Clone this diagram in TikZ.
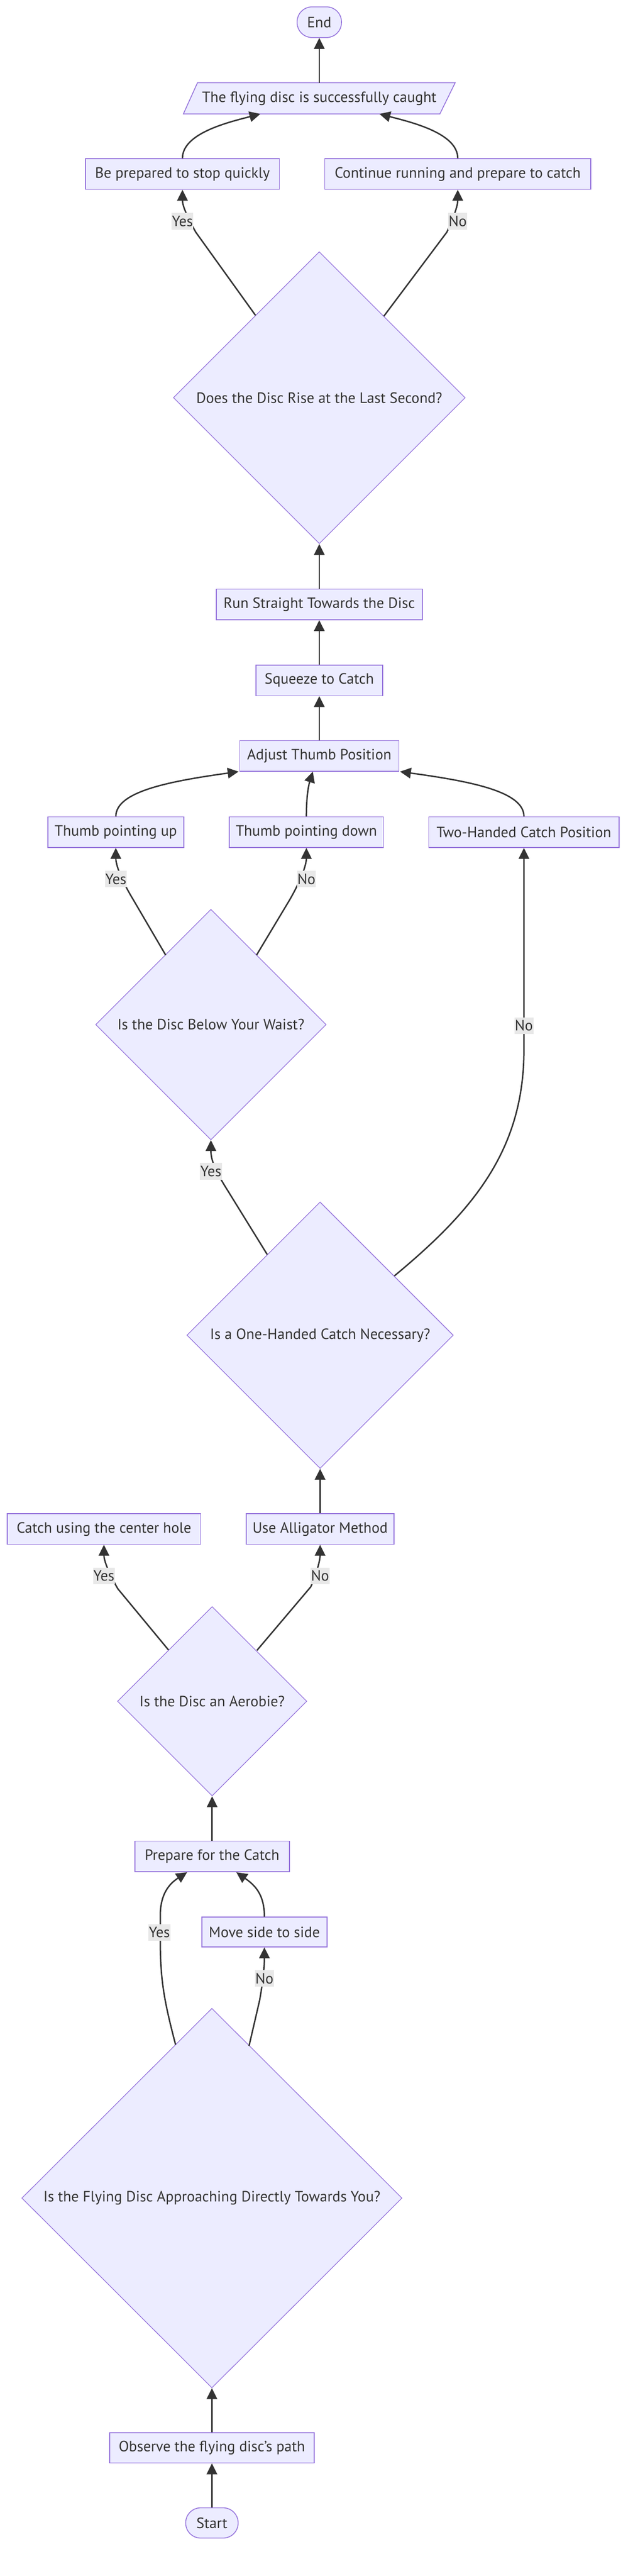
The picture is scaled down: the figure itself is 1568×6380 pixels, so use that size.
\documentclass[tikz,border=0pt]{standalone}
\usepackage{fontspec}
\setmainfont{PT Sans}
\usetikzlibrary{shapes.geometric,arrows.meta,calc}
\definecolor{nfill}{HTML}{ECECFF}
\definecolor{nline}{HTML}{9370DB}
\definecolor{eline}{HTML}{333333}
\definecolor{lblbg}{HTML}{E8E8E8}
\newcommand{\nfont}{\fontsize{37}{42}\selectfont}
\begin{document}
\begin{tikzpicture}[x=1pt,y=-1pt,
  box/.style={draw=nline, fill=nfill, line width=2pt, text=eline, font=\nfont, inner sep=0pt, minimum height=76pt},
  term/.style={box, rounded corners=37pt},
  dec/.style={diamond, draw=nline, fill=nfill, line width=1.6pt, text=eline, font=\nfont, inner sep=0pt, aspect=1},
  plain/.style={text=eline, font=\nfont, inner sep=0pt, minimum height=77pt},
  lbl/.style={fill=lblbg, text=eline, font=\nfont, inner xsep=1pt, inner ysep=0pt, minimum height=41pt},
  edge/.style={draw=eline, line width=3.5pt, -{Triangle[length=27pt,width=26pt]}},
]
\useasboundingbox[fill=white] (0,0) rectangle (1568,6380);

% nodes
\node[term, minimum width=110pt] (end) at (791,55) {End};
\node[plain, minimum width=673pt] (para) at (791,243.5) {The flying disc is successfully caught};
\draw[draw=nline, fill=nfill, line width=2pt]
  ($(para.north west)+(35,0)$) -- (para.north east) -- ($(para.south east)+(-38,0)$) -- (para.south west) -- cycle;
\node[plain, minimum width=673pt] at (para) {The flying disc is successfully caught};
\node[box, minimum width=480pt] (bep) at (452,431) {Be prepared to stop quickly};
\node[box, minimum width=659pt] (cont) at (1134,431) {Continue running and prepare to catch};
\node[dec, minimum width=723pt, minimum height=723pt] (rise) at (791,985) {Does the Disc Rise at the Last Second?};
\node[box, minimum width=510pt] (run) at (791,1497) {Run Straight Towards the Disc};
\node[box, minimum width=314pt] (squeeze) at (791,1685) {Squeeze to Catch};
\node[box, minimum width=394pt] (adjust) at (791,1872) {Adjust Thumb Position};
\node[box, minimum width=337pt] (tup) at (287,2061) {Thumb pointing up};
\node[box, minimum width=382pt] (tdown) at (759,2061) {Thumb pointing down};
\node[box, minimum width=471pt] (twoh) at (1298,2061) {Two-Handed Catch Position};
\node[dec, minimum width=571pt, minimum height=571pt] (waist) at (522.5,2537.5) {Is the Disc Below Your Waist?};
\node[dec, minimum width=660pt, minimum height=660pt] (oneh) at (793,3307) {Is a One-Handed Catch Necessary?};
\node[box, minimum width=479pt] (catch) at (257.5,3787) {Catch using the center hole};
\node[box, minimum width=366pt] (alli) at (793,3787) {Use Alligator Method};
\node[dec, minimum width=469pt, minimum height=469pt] (aero) at (525.5,4213.5) {Is the Disc an Aerobie?};
\node[box, minimum width=383pt] (prep) at (525.5,4598) {Prepare for the Catch};
\node[box, minimum width=310pt, minimum height=74pt] (move) at (655,4785) {Move side to side};
\node[dec, minimum width=942pt, minimum height=940pt] (big) at (525,5444) {Is the Flying Disc Approaching Directly Towards You?};
\node[box, minimum width=506pt, minimum height=75pt] (obs) at (525,6062.5) {Observe the flying disc's path};
\node[term, minimum width=130pt, minimum height=75pt] (start) at (525,6248.5) {Start};

% edges
\draw[edge] (para.north) -- (end.south);
\draw[edge] (bep.north) .. controls (452,330) and (565,303) .. ($(para.south)+(-146,0)$);
\draw[edge] (cont.north) .. controls (1134,330) and (1020,303) .. ($(para.south)+(149,0)$);
\draw[edge] ($(rise)+(-158,-204)$) -- (485,575) .. controls (457,525) and (452,505) .. (bep.south);
\draw[edge] ($(rise)+(160,-202)$) -- (1107,575) .. controls (1130,525) and (1134,505) .. (cont.south);
\draw[edge] (run.north) -- (rise.south);
\draw[edge] (squeeze.north) -- (run.south);
\draw[edge] (adjust.north) -- (squeeze.south);
\draw[edge] (tup.north) .. controls (287,1960) and (420,1935) .. ($(adjust.south west)+(-2,0)$);
\draw[edge] (tdown.north) .. controls (759,1965) and (766,1940) .. ($(adjust.south)+(-16,0)$);
\draw[edge] (twoh.north) .. controls (1298,1960) and (1165,1935) .. ($(adjust.south east)+(2,0)$);
\draw[edge] ($(waist)+(-112,-172)$) -- (330,2228) .. controls (292,2165) and (287,2135) .. (tup.south);
\draw[edge] ($(waist)+(113,-172)$) -- (718,2228) .. controls (754,2165) and (759,2135) .. (tdown.south);
\draw[edge] ($(oneh)+(-131,-200)$) -- (565,2950) .. controls (530,2895) and (522.5,2870) .. (waist.south);
\draw[edge] ($(oneh)+(184,-147)$) .. controls (1170,3000) and (1298,2850) .. (1298,2600) -- (twoh.south);
\draw[edge] (alli.north) -- (oneh.south);
\draw[edge] ($(aero)+(-108,-127)$) -- (292,3935) .. controls (263,3885) and (257.5,3860) .. (catch.south);
\draw[edge] ($(aero)+(111,-126)$) -- (770,3930) .. controls (789,3885) and (793,3860) .. (alli.south);
\draw[edge] (prep.north) -- (aero.south);
\draw[edge] ($(big)+(-90,-380)$) .. controls (405,4950) and (397,4900) .. (397,4800) -- (397,4745) .. controls (397,4690) and (420,4665) .. ($(prep.south)+(-62,0)$);
\draw[edge] ($(big)+(92,-377)$) -- (643,4955) .. controls (652,4905) and (655,4870) .. (move.south);
\draw[edge] (move.north) .. controls (655,4690) and (630,4668) .. ($(prep.south)+(60,0)$);
\draw[edge] (obs.north) -- (big.south);
\draw[edge] (start.north) -- (obs.south);

% labels
\node[lbl] (l1) at (452,548) {Yes};
\node[lbl] (l2) at (1134,548) {No};
\node[lbl] (l3) at (287,2177) {Yes};
\node[lbl] (l4) at (759,2177) {No};
\node[lbl] (l5) at (522.5,2901) {Yes};
\node[lbl] (l6) at (1298,2540) {No};
\node[lbl] (l7) at (257.5,3903) {Yes};
\node[lbl] (l8) at (793,3903) {No};
\node[lbl] (l9) at (395,4786) {Yes};
\node[lbl] (l10) at (655,4900) {No};
\end{tikzpicture}
\end{document}
